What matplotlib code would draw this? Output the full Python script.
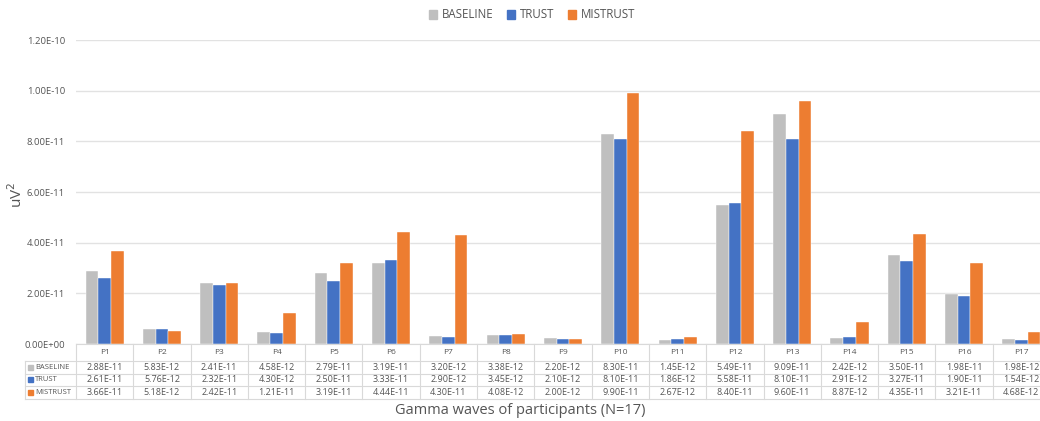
import matplotlib
matplotlib.use("Agg")
import matplotlib.pyplot as plt
from matplotlib import transforms
from matplotlib.lines import Line2D
from matplotlib.patches import Rectangle

participants = ["P1", "P2", "P3", "P4", "P5", "P6", "P7", "P8", "P9",
                "P10", "P11", "P12", "P13", "P14", "P15", "P16", "P17"]
baseline = [2.88e-11, 5.83e-12, 2.41e-11, 4.58e-12, 2.79e-11, 3.19e-11, 3.20e-12,
            3.38e-12, 2.20e-12, 8.30e-11, 1.45e-12, 5.49e-11, 9.09e-11, 2.42e-12,
            3.50e-11, 1.98e-11, 1.98e-12]
trust = [2.61e-11, 5.76e-12, 2.32e-11, 4.30e-12, 2.50e-11, 3.33e-11, 2.90e-12,
         3.45e-12, 2.10e-12, 8.10e-11, 1.86e-12, 5.58e-11, 8.10e-11, 2.91e-12,
         3.27e-11, 1.90e-11, 1.54e-12]
mistrust = [3.66e-11, 5.18e-12, 2.42e-11, 1.21e-11, 3.19e-11, 4.44e-11, 4.30e-11,
            4.08e-12, 2.00e-12, 9.90e-11, 2.67e-12, 8.40e-11, 9.60e-11, 8.87e-12,
            4.35e-11, 3.21e-11, 4.68e-12]
series_names = ["BASELINE", "TRUST", "MISTRUST"]
y_ticks = [0, 2e-11, 4e-11, 6e-11, 8e-11, 1.0e-10, 1.2e-10]
y_tick_labels = ["0.00E+00", "2.00E-11", "4.00E-11", "6.00E-11", "8.00E-11",
                 "1.00E-10", "1.20E-10"]

colors = ["#BFBFBF", "#4472C4", "#ED7D31"]
text_col = "#555555"
line_col = "#D9D9D9"
FONT = ["Open Sans", "DejaVu Sans"]
plt.rcParams["font.family"] = FONT

W, H = 1040, 421
fig = plt.figure(figsize=(W / 100, H / 100), dpi=100)


def fx(px):
    return px / W


def fy(py):
    return (H - py) / H


ax_left, ax_right, ax_top, ax_bot = 76, 1050, 40, 344
ax = fig.add_axes([fx(ax_left), fy(ax_bot), fx(ax_right - ax_left), (ax_bot - ax_top) / H])

n = len(participants)
xs = list(range(n))
bw = 0.222
all_series = [baseline, trust, mistrust]
for k, (vals, col, name) in enumerate(zip(all_series, colors, series_names)):
    ax.bar([x + (k - 1) * bw for x in xs], vals, width=bw, color=col,
           edgecolor="white", linewidth=0.3, label=name, zorder=3)

ax.set_xlim(-0.5, n - 0.5)
ax.set_ylim(0, 1.2e-10)
ax.set_yticks(y_ticks)
ax.set_yticklabels(y_tick_labels)
ax.set_xticks([])
ax.tick_params(axis="y", length=0, pad=8, labelsize=6.8, labelcolor=text_col)
ax.grid(axis="y", color="#E2E2E2", linewidth=1.0, zorder=0)
for s in ax.spines.values():
    s.set_visible(False)

fig.text(fx(17), fy(195), "uV$^2$", rotation=90, ha="center", va="center",
         fontsize=11, color=text_col)

# data table under the plot
rows_y = [344, 361, 373.5, 386, 399]
trans = transforms.blended_transform_factory(ax.transData, fig.transFigure)
lab_left = fx(25)

lw = 0.8
# horizontal borders
for i, yy in enumerate(rows_y):
    x0 = fx(ax_left) if i == 0 else lab_left
    fig.add_artist(Line2D([x0, fx(ax_right)], [fy(yy), fy(yy)], color=line_col,
                          lw=lw, transform=fig.transFigure, clip_on=False))
# vertical borders
for j in range(n + 1):
    xb = j - 0.5
    fig.add_artist(Line2D([xb, xb], [fy(rows_y[0]), fy(rows_y[-1])], color=line_col,
                          lw=lw, transform=trans, clip_on=False))
fig.add_artist(Line2D([lab_left, lab_left], [fy(rows_y[1]), fy(rows_y[-1])],
                      color=line_col, lw=lw, transform=fig.transFigure))

# header
for x, p in zip(xs, participants):
    fig.text(x, fy((rows_y[0] + rows_y[1]) / 2), p, transform=trans, ha="center",
             va="center", fontsize=6, color=text_col)

# rows
for r, (vals, col, name) in enumerate(zip(all_series, colors, series_names)):
    yc = fy((rows_y[r + 1] + rows_y[r + 2]) / 2)
    fig.add_artist(Rectangle((fx(28), yc - 2.5 / H), 5 / W, 5 / H, color=col,
                             transform=fig.transFigure))
    fig.text(fx(35), yc, name, ha="left", va="center", fontsize=5.5, color=text_col)
    for x, v in zip(xs, vals):
        fig.text(x, yc, f"{v:.2E}", transform=trans,
                 ha="center", va="center", fontsize=6.5, color=text_col)

fig.text(fx(520), fy(410), "Gamma waves of participants (N=17)", ha="center",
         va="center", fontsize=10.5, color=text_col)

# legend
handles = [Rectangle((0, 0), 1, 1, color=c) for c in colors]
fig.legend(handles, series_names, loc="center", bbox_to_anchor=(fx(532), fy(15)),
           ncol=3, frameon=False, fontsize=8.3, labelcolor=text_col,
           handlelength=0.7, handleheight=0.7, handletextpad=0.4, columnspacing=1.2)

fig.savefig("out.png", dpi=100)
